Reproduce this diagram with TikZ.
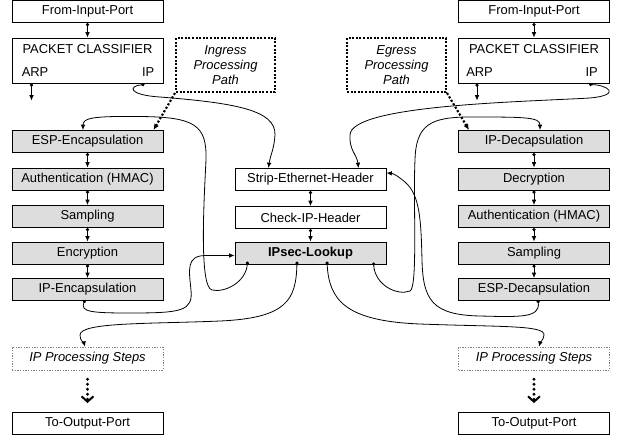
\documentclass[tikz,border=0pt]{standalone}
\usepackage{fontspec}
\setmainfont{Liberation Sans}
\usetikzlibrary{arrows.meta,calc}
\definecolor{boxgray}{RGB}{221,221,221}
\begin{document}
\begin{tikzpicture}[x=0.75pt,y=-0.75pt,
  font=\fontsize{9.7}{11.25}\selectfont,
  box/.style={draw, line width=0.75pt, minimum width=113.25pt, minimum height=16.5pt, inner sep=0pt, anchor=center},
  gbox/.style={box, fill=boxgray},
  pbox/.style={box, minimum height=33.75pt},
  dbox/.style={draw=gray, line width=0.5pt, dash pattern=on 1pt off 1pt, minimum width=113.25pt, minimum height=17.25pt, inner sep=0pt, font=\fontsize{9.7}{11.25}\selectfont\itshape},
  pathbox/.style={draw, line width=1.5pt, dash pattern=on 1.5pt off 1.2pt, minimum width=74.25pt, minimum height=40.5pt, align=center, inner sep=0pt, font=\fontsize{9.7}{11.25}\selectfont\itshape},
  lbl/.style={inner sep=0pt},
  conn/.style={line width=0.6pt, {Circle[length=2.4pt]}-{Latex[length=4pt,width=3.5pt]}},
  dotarrow/.style={line width=1.6pt, dash pattern=on 1.6pt off 1.4pt, -{Latex[length=4.5pt,width=4pt]}},
  bigdots/.style={line width=2.4pt, line cap=round, dash pattern=on 0pt off 3.75pt, -{Straight Barb[length=4pt,width=9pt,line width=1.5pt]}, shorten <=6.75pt, shorten >=6.75pt}
]
\useasboundingbox (0,0) rectangle (619,440);

% left column
\node[box] (lfip) at (87.5,11.5) {From-Input-Port};
\node[pbox] (lpc) at (87.5,60.5) {};
\node[lbl] (lpct) at ($(lpc.north)+(0,12)$) {PACKET CLASSIFIER};
\node[lbl,anchor=west] (larp) at ($(lpc.south west)+(10,-11)$) {ARP};
\node[lbl,anchor=east] (lipt) at ($(lpc.south east)+(-9,-11)$) {IP};
\node[gbox] (lesp) at (87.5,141.5) {ESP-Encapsulation};
\node[gbox] (lauth) at (87.5,179) {Authentication (HMAC)};
\node[gbox] (lsamp) at (87.5,216.5) {Sampling};
\node[gbox] (lenc) at (87.5,253) {Encryption};
\node[gbox] (lipe) at (87.5,289.5) {IP-Encapsulation};
\node[dbox] (lips) at (87.5,358.5) {IP Processing Steps};
\node[box] (ltop) at (87.5,423.5) {To-Output-Port};

% right column
\node[box] (rfip) at (534,11.5) {From-Input-Port};
\node[pbox] (rpc) at (534,60.5) {};
\node[lbl] (rpct) at ($(rpc.north)+(0,12)$) {PACKET CLASSIFIER};
\node[lbl,anchor=west] (rarp) at ($(rpc.south west)+(8,-11)$) {ARP};
\node[lbl,anchor=east] (ript) at ($(rpc.south east)+(-12,-11)$) {IP};
\node[gbox] (ripd) at (534,141.5) {IP-Decapsulation};
\node[gbox] (rdec) at (534,179) {Decryption};
\node[gbox] (rauth) at (534,216.5) {Authentication (HMAC)};
\node[gbox] (rsamp) at (534,253) {Sampling};
\node[gbox] (respd) at (534,289.5) {ESP-Decapsulation};
\node[dbox] (rips) at (534,358.5) {IP Processing Steps};
\node[box] (rtop) at (534,423.5) {To-Output-Port};

% center column
\node[box] (strip) at (310.5,179.5) {Strip-Ethernet-Header};
\node[box] (check) at (310.5,217.5) {Check-IP-Header};
\node[gbox] (lookup) at (310.5,253) {\bfseries IPsec-Lookup};

% path boxes
\node[pathbox] (ing) at (225.5,65) {Ingress\\Processing\\Path};
\node[pathbox] (egr) at (396.5,65) {Egress\\Processing\\Path};

% straight chain connectors
\draw[conn] (lfip.south) -- (lpc.north);
\draw[conn] (rfip.south) -- (rpc.north);
\foreach \a/\b in {lesp/lauth,lauth/lsamp,lsamp/lenc,lenc/lipe,ripd/rdec,rdec/rauth,rauth/rsamp,rsamp/respd,strip/check,check/lookup}
  \draw[conn] (\a.south) -- (\b.north);

% ARP outputs
\coordinate (larpend) at ($(lpc.south west)+(20,17)$);
\coordinate (rarpend) at ($(rpc.south west)+(19,17)$);
\draw[conn] ($(lpc.south west)+(20,0)$) -- (larpend);
\draw[conn] ($(rpc.south west)+(19,0)$) -- (rarpend);

% classifier IP -> strip
\draw[conn] ($(lpc.south east)+(-19,1)$) .. controls (128,86) and (128,95) .. (160,97)
  .. controls (235,103) and (276,110) .. (275,135)
  .. controls (274,150) and (270,156) .. ($(strip.north west)+(34,0)$);
\draw[conn] ($(rpc.south east)+(-21,1)$) .. controls (608,85) and (622,95) .. (590,98)
  .. controls (520,102) and (351,105) .. (350,135)
  .. controls (349,150) and (357,155) .. ($(strip.north west)+(124,0)$);

% processing path pointers
\draw[dotarrow] (ing.south west) -- ($(lesp.north east)+(-10,0)$);
\draw[dotarrow] (egr.south east) -- ($(ripd.north west)+(11,0)$);

% lookup -> ESP-Encapsulation
\draw[conn] ($(lookup.south west)+(13,-3)$) .. controls (246,282) and (225,293) .. (212,290)
  .. controls (199,287) and (204,200) .. (206,160)
  .. controls (207,125) and (195,117) .. (140,116.5)
  .. controls (92,116) and (83,118) .. ($(lesp.north)+(-4.5,0)$);

% IP-Encapsulation -> lookup
\draw[conn] ($(lipe.south)+(-2.5,-1)$) .. controls (80,312) and (92,313) .. (130,313)
  .. controls (182,313) and (193,311) .. (191,290)
  .. controls (189,270) and (186,256) .. (205,255.5) -- ($(lookup.west)+(0,2.5)$);

% lookup -> IP processing steps
\draw[conn] ($(lookup.south)+(-13.5,-3)$) .. controls (296,300) and (287,318) .. (220,321)
  .. controls (150,324) and (80,322) .. (80,335)
  .. controls (80,341) and (84,343) .. ($(lips.north)+(-2.5,0)$);
\draw[conn] ($(lookup.south)+(16.5,-3)$) .. controls (329,300) and (345,321) .. (420,324)
  .. controls (500,327) and (545,325) .. (544,335)
  .. controls (543.5,340) and (540,343) .. ($(rips.north)+(5,0)$);

% lookup -> IP-Decapsulation
\draw[conn] ($(lookup.south east)+(-13,-2)$) .. controls (375,285) and (397,296) .. (410,291)
  .. controls (418,288) and (413,200) .. (415,160)
  .. controls (416,125) and (430,117) .. (470,117)
  .. controls (525,117) and (540,117) .. ($(ripd.north)+(6,0)$);

% ESP-Decapsulation -> strip
\draw[conn] ($(respd.south)+(4,-1)$) .. controls (540,318) and (520,317) .. (480,316)
  .. controls (432,315) and (423,300) .. (422,260)
  .. controls (421,220) and (420,195) .. (405,182)
  .. controls (399,177) and (394,173.5) .. ($(strip.east)+(0,-6.5)$);

% dotted continuation
\draw[bigdots] (lips.south) -- (ltop.north);
\draw[bigdots] (rips.south) -- (rtop.north);
\end{tikzpicture}
\end{document}
